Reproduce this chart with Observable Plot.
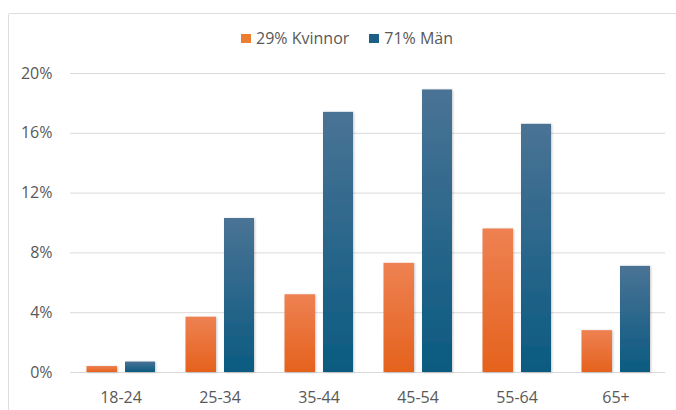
<!DOCTYPE html>
<html>
<head>
<meta charset="utf-8">
<script src="https://cdn.jsdelivr.net/npm/d3@7"></script>
<script src="https://cdn.jsdelivr.net/npm/@observablehq/plot@0.6"></script>
<style>
  html, body { margin: 0; padding: 0; background: #fff; }
  body { width: 676px; height: 410px; overflow: hidden; position: relative; font-family: "Open Sans", sans-serif; color: #595959; }
  #frame { position: absolute; left: 8px; top: 13px; width: 720px; height: 440px; border: 1px solid #dedede; border-radius: 2px; box-sizing: border-box; }
  #legend { position: absolute; left: 241px; top: 27px; height: 22px; line-height: 22px; font-size: 16px; display: flex; align-items: center; white-space: nowrap; }
  #legend .item { display: flex; align-items: center; margin-right: 20px; }
  #legend .sw { width: 10px; height: 9px; margin-right: 5px; }
  #chart { position: absolute; left: 0; top: 58px; }
</style>
</head>
<body>
<div id="frame"></div>
<div id="legend"></div>
<div id="chart"></div>
<script>
const ages = ["18-24", "25-34", "35-44", "45-54", "55-64", "65+"];
const kvinnor = [0.4, 3.7, 5.2, 7.3, 9.6, 2.8];
const man = [0.7, 10.3, 17.4, 18.9, 16.6, 7.1];
const seriesNames = ["29% Kvinnor", "71% Män"];
const seriesColors = ["#ED7D31", "#1B5E86"];
const yTicks = [0, 4, 8, 12, 16, 20];

const dataK = ages.map((a, i) => ({age: a, value: kvinnor[i]}));
const dataM = ages.map((a, i) => ({age: a, value: man[i]}));

// legend
const legend = document.getElementById("legend");
seriesNames.forEach((name, i) => {
  const item = document.createElement("div");
  item.className = "item";
  const sw = document.createElement("span");
  sw.className = "sw";
  sw.style.background = seriesColors[i];
  const t = document.createElement("span");
  t.textContent = name;
  item.appendChild(sw);
  item.appendChild(t);
  legend.appendChild(item);
});

const plot = Plot.plot({
  width: 676,
  height: 352,
  marginLeft: 70,
  marginRight: 11,
  marginTop: 15,
  marginBottom: 38,
  style: {fontFamily: "Open Sans", fontSize: "16px", color: "#595959", background: "transparent"},
  x: {domain: ages, padding: 0, tickSize: 0, tickPadding: 19, label: null},
  y: {domain: [0, 20], ticks: yTicks, tickFormat: d => d + "%", tickSize: 0, tickPadding: 18, label: null},
  marks: [
    Plot.ruleY(yTicks, {stroke: "#d9d9d9", strokeWidth: 1}),
    Plot.barY(dataK, {x: "age", y: "value", fill: "url(#gradK)", insetLeft: 15.5, insetRight: 53}),
    Plot.barY(dataM, {x: "age", y: "value", fill: "url(#gradM)", insetLeft: 54, insetRight: 15})
  ]
});

const svg = d3.select(plot);
const defs = svg.insert("defs", ":first-child");
const gK = defs.append("linearGradient").attr("id", "gradK").attr("x1", 0).attr("y1", 0).attr("x2", 0).attr("y2", 1);
gK.append("stop").attr("offset", "0%").attr("stop-color", "#EE8152");
gK.append("stop").attr("offset", "100%").attr("stop-color", "#E5621D");
const gM = defs.append("linearGradient").attr("id", "gradM").attr("x1", 0).attr("y1", 0).attr("x2", 0).attr("y2", 1);
gM.append("stop").attr("offset", "0%").attr("stop-color", "#4A7395");
gM.append("stop").attr("offset", "100%").attr("stop-color", "#0B5A81");
const f = defs.append("filter").attr("id", "shadow").attr("x", "-20%").attr("y", "-20%").attr("width", "140%").attr("height", "140%");
f.append("feDropShadow").attr("dx", 1).attr("dy", 0.5).attr("stdDeviation", 1).attr("flood-color", "#000").attr("flood-opacity", 0.22);
svg.selectAll("g[aria-label='bar']").attr("filter", "url(#shadow)");

document.getElementById("chart").appendChild(plot);
</script>
</body>
</html>
